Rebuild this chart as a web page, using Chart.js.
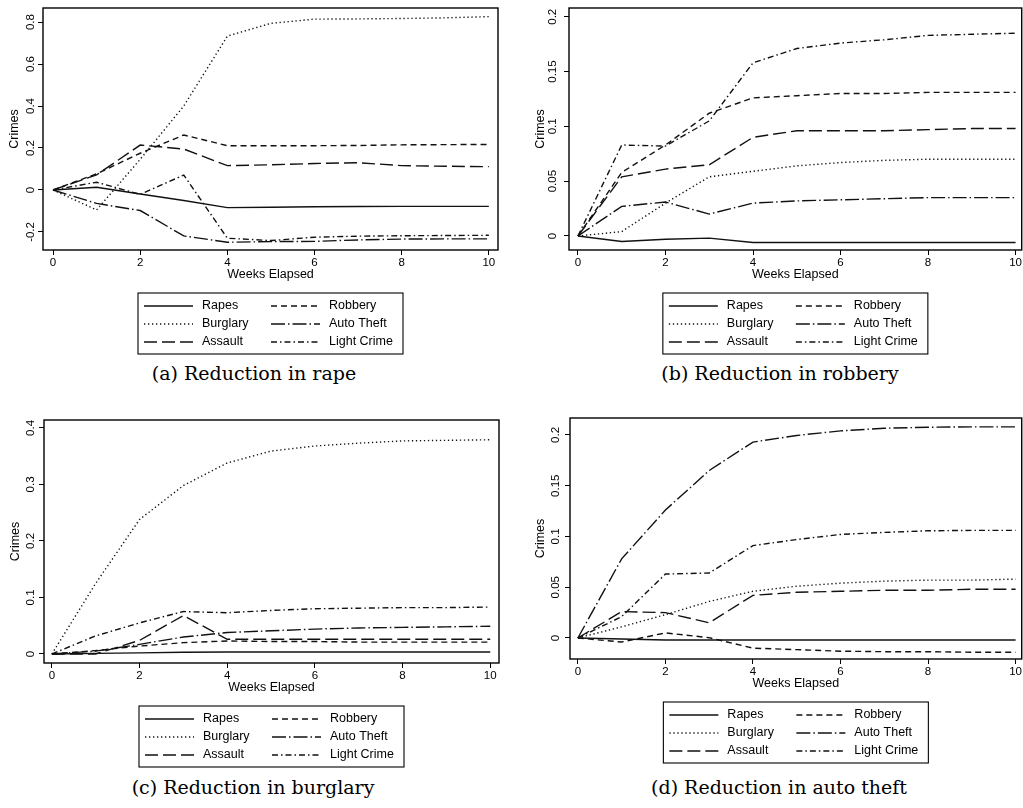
<!DOCTYPE html>
<html>
<head>
<meta charset="utf-8">
<script src="https://cdn.jsdelivr.net/npm/chart.js@4.4.1/dist/chart.umd.min.js"></script>
<style>
  body { margin: 0; background: #fff; width: 1023px; height: 808px; position: relative; overflow: hidden; }
  canvas { position: absolute; }
  .cap { position: absolute; font-family: "DejaVu Serif", serif; font-size: 19px; color: #000;
         transform: translate(-50%, -50%); white-space: nowrap; }
</style>
</head>
<body>
<canvas id="chartA" width="510" height="360" style="left:0;top:0"></canvas>
<canvas id="chartB" width="503" height="360" style="left:520px;top:0"></canvas>
<canvas id="chartC" width="510" height="360" style="left:0;top:410px"></canvas>
<canvas id="chartD" width="503" height="360" style="left:520px;top:410px"></canvas>
<div class="cap" style="left:254px;top:373px">(a) Reduction in rape</div>
<div class="cap" style="left:780px;top:373px">(b) Reduction in robbery</div>
<div class="cap" style="left:253px;top:787px">(c) Reduction in burglary</div>
<div class="cap" style="left:779px;top:787px">(d) Reduction in auto theft</div>
<script>
const weeks = [0, 1, 2, 3, 4, 5, 6, 7, 8, 9, 10];
const weekTicks = [0, 2, 4, 6, 8, 10];
const seriesNames = ["Rapes", "Burglary", "Assault", "Robbery", "Auto Theft", "Light Crime"];

// (a) Reduction in rape
const rapeRapes = [0, 0.013, -0.019, -0.05, -0.084, -0.082, -0.080, -0.079, -0.078, -0.078, -0.078];
const rapeBurglary = [0, -0.095, 0.146, 0.40, 0.733, 0.794, 0.814, 0.815, 0.817, 0.82, 0.826];
const rapeAssault = [0, 0.072, 0.214, 0.195, 0.116, 0.12, 0.126, 0.13, 0.116, 0.113, 0.111];
const rapeRobbery = [0, 0.077, 0.175, 0.262, 0.211, 0.211, 0.211, 0.212, 0.215, 0.216, 0.217];
const rapeAutoTheft = [0, -0.064, -0.098, -0.219, -0.249, -0.246, -0.245, -0.238, -0.234, -0.233, -0.233];
const rapeLightCrime = [0, 0.037, -0.021, 0.071, -0.23, -0.241, -0.225, -0.22, -0.218, -0.217, -0.216];
const rapeYTicks = [-0.2, 0, 0.2, 0.4, 0.6, 0.8];
const rapeYLabels = ["-0.2", "0", "0.2", "0.4", "0.6", "0.8"];

// (b) Reduction in robbery
const robRapes = [0, -0.005, -0.003, -0.002, -0.006, -0.006, -0.006, -0.006, -0.006, -0.006, -0.006];
const robBurglary = [0, 0.004, 0.030, 0.054, 0.059, 0.064, 0.067, 0.069, 0.070, 0.070, 0.070];
const robAssault = [0, 0.054, 0.061, 0.065, 0.090, 0.096, 0.096, 0.096, 0.097, 0.098, 0.098];
const robRobbery = [0, 0.058, 0.083, 0.112, 0.126, 0.128, 0.130, 0.130, 0.131, 0.131, 0.131];
const robAutoTheft = [0, 0.027, 0.031, 0.020, 0.030, 0.032, 0.033, 0.034, 0.035, 0.035, 0.035];
const robLightCrime = [0, 0.083, 0.082, 0.105, 0.158, 0.171, 0.176, 0.179, 0.183, 0.184, 0.185];
const robYTicks = [0, 0.05, 0.1, 0.15, 0.2];
const robYLabels = ["0", "0.05", "0.1", "0.15", "0.2"];

// (c) Reduction in burglary
const burRapes = [0, 0.001, 0.002, 0.003, 0.0035, 0.0035, 0.0035, 0.0035, 0.0035, 0.0035, 0.0035];
const burBurglary = [0, 0.125, 0.238, 0.298, 0.338, 0.359, 0.368, 0.373, 0.377, 0.378, 0.379];
const burAssault = [0, 0.0, 0.024, 0.068, 0.026, 0.026, 0.026, 0.026, 0.026, 0.026, 0.026];
const burRobbery = [0, 0.006, 0.014, 0.020, 0.023, 0.022, 0.022, 0.021, 0.021, 0.021, 0.021];
const burAutoTheft = [0, 0.005, 0.017, 0.030, 0.038, 0.041, 0.044, 0.046, 0.047, 0.048, 0.049];
const burLightCrime = [0, 0.032, 0.055, 0.075, 0.073, 0.077, 0.080, 0.081, 0.082, 0.082, 0.083];
const burYTicks = [0, 0.1, 0.2, 0.3, 0.4];
const burYLabels = ["0", "0.1", "0.2", "0.3", "0.4"];

// (d) Reduction in auto theft
const autoRapes = [0, -0.001, -0.002, -0.002, -0.002, -0.002, -0.002, -0.002, -0.002, -0.002, -0.002];
const autoBurglary = [0, 0.011, 0.023, 0.036, 0.046, 0.051, 0.054, 0.056, 0.057, 0.057, 0.058];
const autoAssault = [0, 0.026, 0.025, 0.015, 0.042, 0.045, 0.046, 0.047, 0.047, 0.048, 0.048];
const autoRobbery = [0, -0.004, 0.005, 0.0003, -0.010, -0.0115, -0.013, -0.0135, -0.0135, -0.014, -0.014];
const autoAutoTheft = [0, 0.078, 0.126, 0.165, 0.193, 0.1995, 0.204, 0.2066, 0.2076, 0.208, 0.208];
const autoLightCrime = [0, 0.021, 0.063, 0.064, 0.091, 0.097, 0.102, 0.104, 0.1056, 0.106, 0.106];
const autoYTicks = [0, 0.05, 0.1, 0.15, 0.2];
const autoYLabels = ["0", "0.05", "0.1", "0.15", "0.2"];

const lineColor = "#111";
const dashes = [[], [1.3, 2.7], [13, 5], [6, 4], [14, 3, 1.5, 3], [6, 3, 1.5, 3]];
const sansFont = "'Liberation Sans', Arial, sans-serif";

// box round the plot area + 2x3 legend under the x axis title
const frameAndLegend = {
  id: "frameAndLegend",
  afterDraw(chart) {
    const ctx = chart.ctx;
    const a = chart.chartArea;
    ctx.save();
    ctx.strokeStyle = "#000";
    ctx.lineWidth = 1.4;
    ctx.strokeRect(a.left, a.top, a.right - a.left, a.bottom - a.top);

    const bx = (a.left + a.right) / 2 - 132.5;
    const by = a.bottom + 43;
    ctx.lineWidth = 1.1;
    ctx.strokeRect(bx, by, 265, 61);
    ctx.font = "12.5px " + sansFont;
    ctx.textBaseline = "middle";
    chart.data.datasets.forEach((ds, i) => {
      const col = Math.floor(i / 3);
      const row = i % 3;
      const lx = bx + (col ? 133 : 6);
      const ly = by + 13 + row * 18;
      ctx.setLineDash(ds.borderDash);
      ctx.strokeStyle = ds.borderColor;
      ctx.lineWidth = ds.borderWidth;
      ctx.beginPath();
      ctx.moveTo(lx, ly);
      ctx.lineTo(lx + 49, ly);
      ctx.stroke();
      ctx.setLineDash([]);
      ctx.fillStyle = "#000";
      ctx.fillText(ds.label, lx + 58, ly);
    });
    ctx.restore();
  },
};

function makeChart(id, series, p) {
  const datasets = series.map((vals, i) => ({
    label: seriesNames[i],
    data: vals.map((v, k) => ({ x: weeks[k], y: v })),
    borderColor: lineColor,
    borderWidth: 1.4,
    borderDash: dashes[i],
    pointRadius: 0,
    tension: 0,
    fill: false,
  }));
  const tickFont = { family: sansFont, size: 11.5 };
  const titleFont = { family: sansFont, size: 12.5 };
  return new Chart(document.getElementById(id), {
    type: "line",
    data: { datasets: datasets },
    options: {
      responsive: false,
      animation: false,
      layout: { padding: { top: p.top, right: p.right, bottom: p.bottom, left: 0 } },
      plugins: { legend: { display: false }, tooltip: { enabled: false } },
      scales: {
        x: {
          type: "linear",
          min: p.xMin,
          max: p.xMax,
          afterBuildTicks: (s) => { s.ticks = weekTicks.map((v) => ({ value: v })); },
          afterFit: (s) => { s.height = 32; },
          ticks: { minRotation: 0, maxRotation: 0, padding: 1, font: tickFont, color: "#000",
                   callback: (v) => String(v) },
          grid: { drawOnChartArea: false, tickLength: 5, color: "#000" },
          border: { display: false },
          title: { display: true, text: "Weeks Elapsed", padding: { top: 0, bottom: 0 }, font: titleFont, color: "#000" },
        },
        y: {
          type: "linear",
          min: p.yMin,
          max: p.yMax,
          afterBuildTicks: (s) => { s.ticks = p.yTicks.map((v) => ({ value: v })); },
          afterFit: (s) => { s.width = p.axisW; },
          ticks: { minRotation: 90, maxRotation: 90, crossAlign: "center", padding: p.tickPad,
                   font: tickFont, color: "#000", callback: (v, i) => p.yLabels[i] },
          grid: { drawOnChartArea: false, tickLength: 5, color: "#000" },
          border: { display: false },
          title: { display: true, text: "Crimes", padding: { top: p.titlePad, bottom: 0 }, font: titleFont, color: "#000" },
        },
      },
    },
    plugins: [frameAndLegend],
  });
}

makeChart("chartA",
  [rapeRapes, rapeBurglary, rapeAssault, rapeRobbery, rapeAutoTheft, rapeLightCrime],
  { top: 8, right: 12, bottom: 78, axisW: 43, tickPad: -2.5, titlePad: 7,
    xMin: -0.23, xMax: 10.21, yMin: -0.286, yMax: 0.867, yTicks: rapeYTicks, yLabels: rapeYLabels });

makeChart("chartB",
  [robRapes, robBurglary, robAssault, robRobbery, robAutoTheft, robLightCrime],
  { top: 8, right: 1, bottom: 78, axisW: 49, tickPad: -0.2, titlePad: 13,
    xMin: -0.205, xMax: 10.14, yMin: -0.0128, yMax: 0.208, yTicks: robYTicks, yLabels: robYLabels });

makeChart("chartC",
  [burRapes, burBurglary, burAssault, burRobbery, burAutoTheft, burLightCrime],
  { top: 10, right: 11, bottom: 75, axisW: 44, tickPad: -0.25, titlePad: 8,
    xMin: -0.18, xMax: 10.2, yMin: -0.016, yMax: 0.414, yTicks: burYTicks, yLabels: burYLabels });

makeChart("chartD",
  [autoRapes, autoBurglary, autoAssault, autoRobbery, autoAutoTheft, autoLightCrime],
  { top: 8, right: 1, bottom: 79, axisW: 50, tickPad: -1.7, titlePad: 13,
    xMin: -0.18, xMax: 10.14, yMin: -0.0207, yMax: 0.2167, yTicks: autoYTicks, yLabels: autoYLabels });
</script>
</body>
</html>
